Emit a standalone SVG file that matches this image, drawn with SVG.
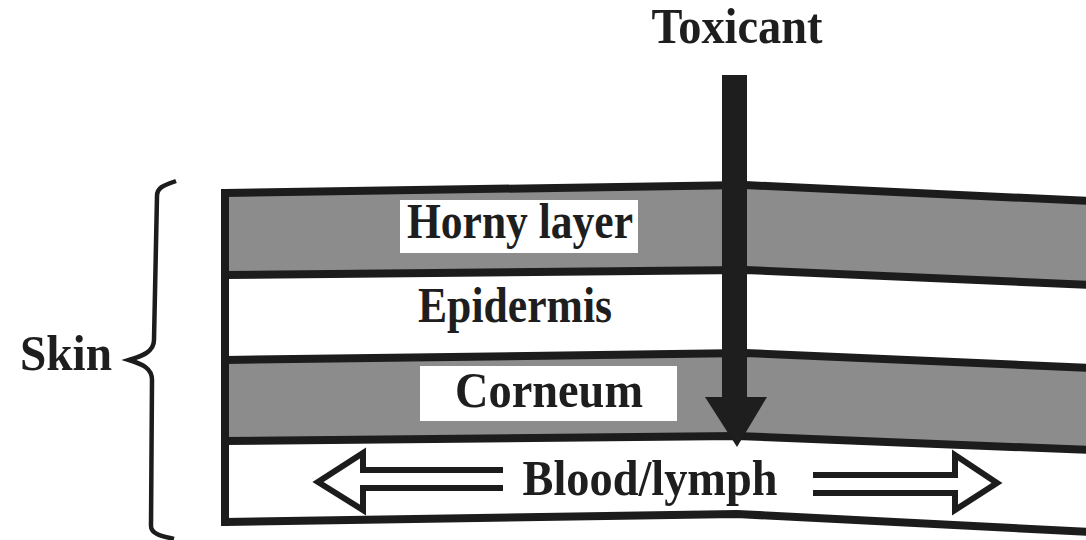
<svg xmlns="http://www.w3.org/2000/svg" width="1086" height="540" viewBox="0 0 1086 540">
<style>
.line{fill:none;stroke:#1c1c1c;stroke-width:8;stroke-linejoin:round}
.band{fill:#8c8c8c;stroke:none}
.box{fill:#ffffff}
.lbl{font-family:"Liberation Serif","Times New Roman",serif;font-weight:bold;font-size:50px;fill:#1e1e1e;text-anchor:middle}
.hollow{fill:none;stroke:#1c1c1c;stroke-width:6;stroke-linejoin:miter}
</style>
<rect width="1086" height="540" fill="#ffffff"/>
<g id="layers">
<polygon class="band" points="225,193 745,185 1086,201 1086,285 745,270 225,275"/>
<polygon class="band" points="225,360 745,353 1086,368 1086,450 737,436 225,441"/>
<polyline class="line" points="225,193 745,185 1090,201"/>
<polyline class="line" points="225,275 745,270 1090,285"/>
<polyline class="line" points="225,360 745,353 1090,368"/>
<polyline class="line" points="225,441 737,436 1090,450"/>
<polyline class="line" points="225,522 737,514 1090,532"/>
<line x1="225" y1="189" x2="225" y2="526" stroke="#1c1c1c" stroke-width="8"/>
</g>
<g id="horny-layer">
<rect class="box" x="400" y="200" width="238" height="53"/>
<text class="lbl" x="520" y="238" textLength="226" lengthAdjust="spacingAndGlyphs">Horny layer</text>
</g>
<g id="epidermis">
<text class="lbl" x="515" y="322" textLength="194" lengthAdjust="spacingAndGlyphs">Epidermis</text>
</g>
<g id="corneum">
<rect class="box" x="420" y="366" width="257" height="55"/>
<text class="lbl" x="549" y="407" textLength="188" lengthAdjust="spacingAndGlyphs">Corneum</text>
</g>
<g id="blood-lymph">
<text class="lbl" x="650" y="495" textLength="255" lengthAdjust="spacingAndGlyphs">Blood/lymph</text>
</g>
<g id="skin">
<text class="lbl" x="66" y="370" textLength="92" lengthAdjust="spacingAndGlyphs">Skin</text>
<path d="M176,181 C165,185 157,187 157,196 L154,340 C154,352 142,356 129,360 C142,364 152,368 152,380 L151,526 C151,534 162,536 174,539" fill="none" stroke="#1c1c1c" stroke-width="4.5"/>
</g>
<g id="toxicant">
<text class="lbl" x="737" y="43" textLength="171" lengthAdjust="spacingAndGlyphs">Toxicant</text>
</g>
<g id="connectors">
<rect x="722" y="75" width="25" height="323" fill="#1e1e1e"/>
<polygon points="705,397 767,397 737,447" fill="#1e1e1e"/>
<path class="hollow" d="M503,470 L363,470 L363,453 L318,482 L363,510 L363,488 L503,488"/>
<path class="hollow" d="M813,475 L955,475 L955,455 L997,483 L955,510 L955,493 L813,493"/>
</g>
</svg>
